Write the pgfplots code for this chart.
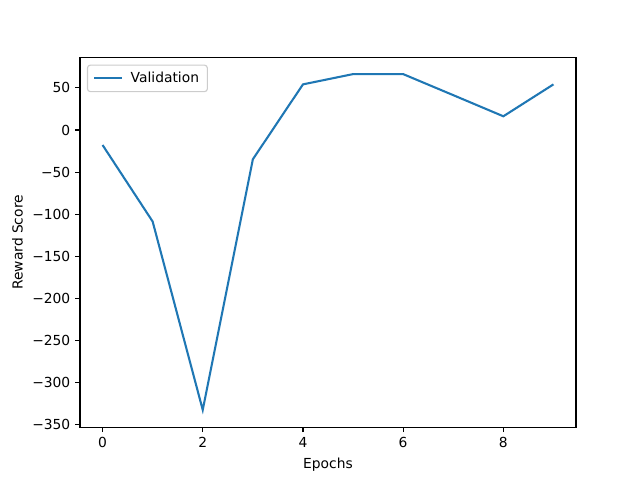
\documentclass[border=0pt]{standalone}
\usepackage{fontspec}
\setmainfont{DejaVu Sans}
\usepackage{pgfplots}
\pgfplotsset{compat=1.18}
\definecolor{tabblue}{HTML}{1F77B4}
\begin{document}
\begin{tikzpicture}
\path[use as bounding box] (-0.8in,-0.528in) rectangle (5.6in,4.272in);
\begin{axis}[
  at={(0,0)}, anchor=south west,
  scale only axis, width=4.96in, height=3.696in,
  xmin=-0.45, xmax=9.45, ymin=-353, ymax=86,
  xtick={0,2,4,6,8},
  ytick={-350,-300,-250,-200,-150,-100,-50,0,50},
  yticklabels={−350,−300,−250,−200,−150,−100,−50,0,50},
  /pgf/number format/assume math mode=true,
  tick align=outside, tick pos=left,
  major tick length=3.5pt,
  every tick/.style={black, line width=0.8pt},
  axis line style={line width=0.8pt},
  tick label style={font=\fontsize{10}{12}\selectfont},
  label style={font=\fontsize{10}{12}\selectfont},
  xlabel={Epochs}, ylabel={Reward Score},
  xlabel style={yshift=-1pt},
  ylabel style={yshift=0pt},
  legend style={font=\fontsize{10}{12}\selectfont, draw=black!20, rounded corners=2pt, line width=0.8pt, at={(0.014,0.981)}, anchor=north west, inner xsep=4pt, inner ysep=3pt},
  legend cell align=left,
  legend image code/.code={\draw[#1] (0in,0in) -- (0.28in,0in);},
  legend image post style={line width=1.5pt},
]
\addplot[tabblue, line width=1.5pt] coordinates {
(0,-17.8) (1,-108.7) (2,-332.5) (3,-34.8) (4,54.2) (5,66.4) (6,66.4) (7,41.4) (8,16.3) (9,54.2)
};
\addlegendentry{\hspace{3.5pt}Validation}
\end{axis}
\end{tikzpicture}
\end{document}
